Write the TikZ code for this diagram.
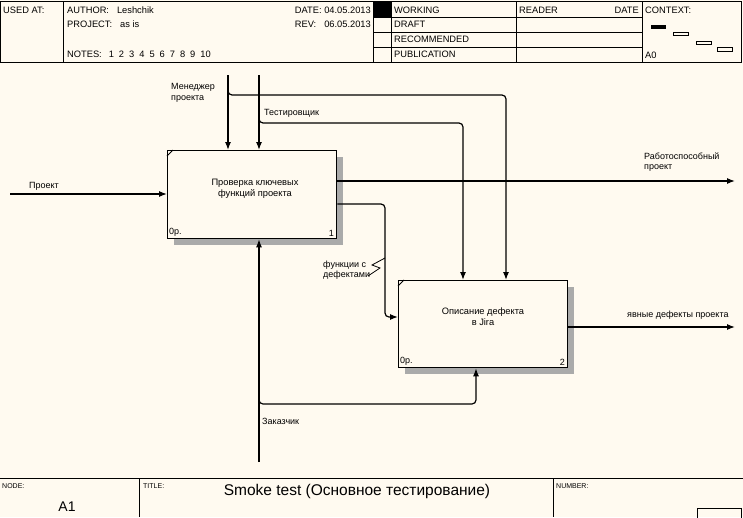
\documentclass[tikz,border=0pt]{standalone}
\usepackage{fontspec}
\setmainfont{Liberation Sans}
\usetikzlibrary{arrows.meta}
\definecolor{paper}{RGB}{255,250,240}
\definecolor{shade}{RGB}{170,170,170}

\begin{document}
\begin{tikzpicture}[x=1pt,y=-1pt,
  frame/.style={line width=1pt, draw=black},
  lbl/.style={font=\fontsize{9}{10.5}\selectfont, inner sep=0pt, align=left, anchor=west},
  hdr/.style={font=\fontsize{9.3}{11}\selectfont, inner sep=0pt, anchor=west},
  ftr/.style={font=\fontsize{7}{8}\selectfont, inner sep=0pt, anchor=west},
  func/.style={draw, fill=paper, line width=1.3pt, anchor=north west, inner sep=0pt},
  boxtext/.style={font=\fontsize{9.3}{10.8}\selectfont, inner sep=0pt, align=center},
  shadow/.style={fill=shade, draw=none},
  flow/.style={line width=1.2pt, rounded corners=4pt},
  arr/.style={flow, -{Latex[length=8pt,width=6pt]}},
]
% page
\fill[paper] (0,0) rectangle (743,517);
\useasboundingbox (0,0) rectangle (743,517);

% ---------- header ----------
\draw[frame] (0.5,1.5) rectangle (741,62);
\foreach \x in {63,373,391,516,642} \draw[frame] (\x,1.5) -- (\x,62);
\foreach \y in {17,32,47} \draw[frame] (373,\y) -- (642,\y);
\fill (373,1.5) rectangle (391,17);

\node[hdr] (usedat) at (3,10) {USED AT:};
\node[hdr] (author) at (67,10) {AUTHOR:\hspace{8pt}Leshchik};
\node[hdr] (project) at (67,24) {PROJECT:\hspace{8pt}as is};
\node[hdr] (notes) at (67,54) {NOTES:\hspace{7pt}1\hspace{5pt}2\hspace{5pt}3\hspace{5pt}4\hspace{5pt}5\hspace{5pt}6\hspace{5pt}7\hspace{5pt}8\hspace{5pt}9\hspace{5pt}10};
\node[hdr, anchor=east] (date) at (371,10) {DATE: 04.05.2013};
\node[hdr, anchor=east] (rev) at (371,24) {REV:\hspace{8pt}06.05.2013};
\node[hdr] (working) at (394,10) {WORKING};
\node[hdr] (draft) at (394,24) {DRAFT};
\node[hdr] (recommended) at (394,39) {RECOMMENDED};
\node[hdr] (publication) at (394,54) {PUBLICATION};
\node[hdr] (reader) at (519,10) {READER};
\node[hdr, anchor=east] (rdate) at (639,10) {DATE};
\node[hdr] (context) at (645,10) {CONTEXT:};
\node[hdr] (a0) at (645,55) {A0};
\fill (651,25) rectangle (666,29);
\draw[line width=0.9pt] (673,32) rectangle (688,35.5);
\draw[line width=0.9pt] (696,41) rectangle (711,44.5);
\draw[line width=0.9pt] (717,47.5) rectangle (732,51);

% ---------- function boxes ----------
\fill[shadow] (174,238) rectangle (343,245);
\fill[shadow] (336,157) rectangle (343,245);
\node[func, minimum width=169pt, minimum height=88pt] (a1) at (167,150) {};
\draw[line width=0.8pt] ([yshift=-6pt]a1.north west) -- ([xshift=6pt]a1.north west);
\node[boxtext] (a1t) at (255,189) {Проверка ключевых\\функций проекта};
\node[lbl, anchor=south west] (a1c) at (169,237) {0р.};
\node[lbl, anchor=south east] (a1n) at (334,237) {1};

\fill[shadow] (405,367) rectangle (574,374);
\fill[shadow] (567,287) rectangle (574,374);
\node[func, minimum width=169pt, minimum height=87pt] (a2) at (398,280) {};
\draw[line width=0.8pt] ([yshift=-6pt]a2.north west) -- ([xshift=6pt]a2.north west);
\node[boxtext] (a2t) at (483,317) {Описание дефекта\\в Jira};
\node[lbl, anchor=south west] (a2c) at (400,366) {0р.};
\node[lbl, anchor=south east] (a2n) at (565,366) {2};

% ---------- arrows ----------
% input
\coordinate (i1) at (10,194);
\draw[arr] (i1) -- (i1 -| a1.west);
\node[lbl] (li1) at (29,186) {Проект};

% controls
\coordinate (cM) at (228,75);
\coordinate (cT) at (259,75);
\draw[arr] (cM) -- (cM |- a1.north);
\draw[arr] (cT) -- (cT |- a1.north);
\coordinate (bM) at (228,91);
\coordinate (dM) at (506,95);
\draw[arr] (bM) |- (dM) -- (dM |- a2.north);
\coordinate (bT) at (259,119);
\coordinate (dT) at (463,123);
\draw[arr] (bT) |- (dT) -- (dT |- a2.north);
\node[lbl] (lcM) at (171,93) {Менеджер\\проекта};
\node[lbl] (lcT) at (264,113) {Тестировщик};

% outputs
\coordinate (o1) at (735,181);
\draw[arr] (a1.east |- o1) -- (o1);
\node[lbl] (lo1) at (644,162) {Работоспособный\\проект};
\coordinate (o2) at (735,327);
\draw[arr] (a2.east |- o2) -- (o2);
\node[lbl] (lo2) at (627,315) {явные дефекты проекта};

% output of A1 feeding A2
\coordinate (f1) at (385,204);
\coordinate (f2) at (385,317);
\draw[arr] (a1.east |- f1) -- (f1) -- (f2) -- (f2 -| a2.west);
\draw[line width=0.8pt] (385,258) -- (372,265) -- (380,268) -- (368,276);
\node[lbl] (lf) at (323,270) {функции с\\дефектами};

% mechanism
\coordinate (mC) at (259,462);
\draw[arr] (mC) -- (mC |- a1.south);
\coordinate (bC) at (259,400);
\coordinate (dC) at (476,404);
\draw[arr] (bC) |- (dC) -- (dC |- a2.south);
\node[lbl] (lmC) at (262,421) {Заказчик};

% ---------- footer ----------
\draw[frame] (0,478) -- (743,478);
\draw[frame] (139,478) -- (139,517);
\draw[frame] (553,478) -- (553,517);
\draw[frame] (697,520) -- (697,508) -- (741,508) -- (741,520);
\node[ftr] (nodelbl) at (2,486) {NODE:};
\node[font=\fontsize{14}{16}\selectfont, inner sep=0pt] (nodeno) at (67,507) {A1};
\node[ftr] (titlelbl) at (143,486) {TITLE:};
\node[font=\fontsize{15.5}{17}\selectfont, inner sep=0pt] (title) at (357,491) {Smoke test (Основное тестирование)};
\node[ftr] (numlbl) at (556,486) {NUMBER:};
\end{tikzpicture}
\end{document}
